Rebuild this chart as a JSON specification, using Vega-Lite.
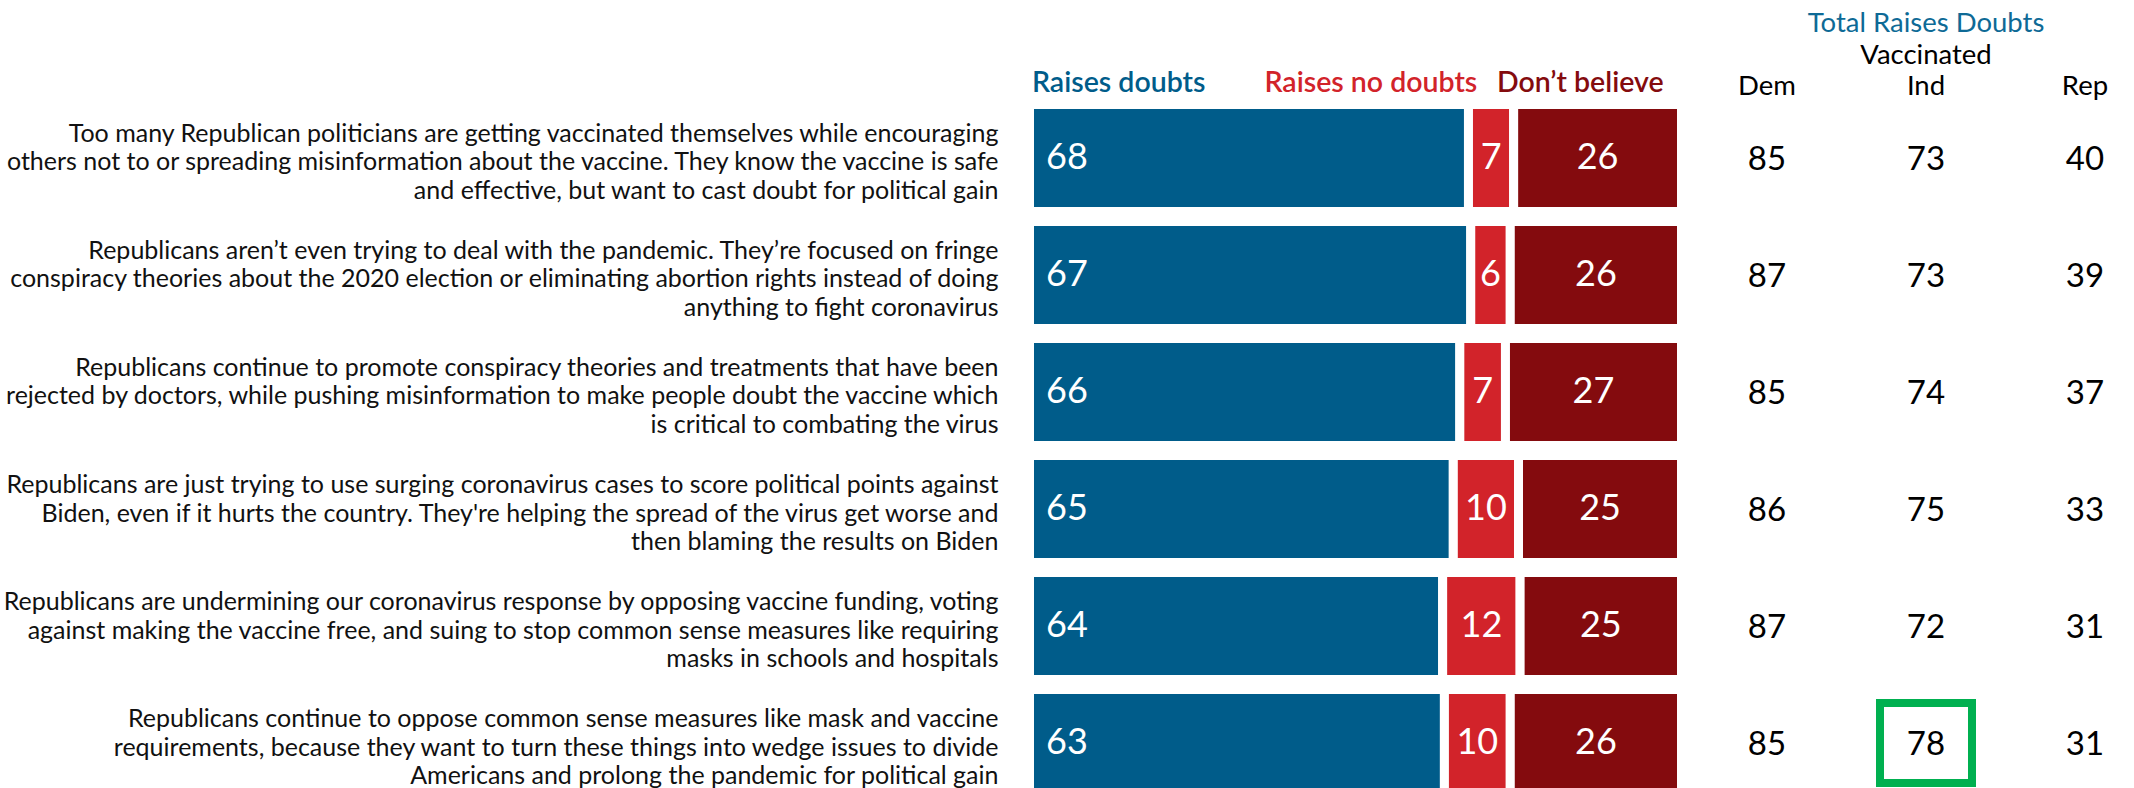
{
  "$schema": "https://vega.github.io/schema/vega-lite/v6.json",
  "width": 1104.5,
  "height": 788,
  "autosize": {"type": "none"},
  "padding": {"left": 1029.5, "top": 0, "right": 0, "bottom": 0},
  "background": "white",
  "config": {"view": {"stroke": null}, "font": "Lato"},
  "datasets": {
    "statements": [
      {"id": 1, "statement": "Too many Republican politicians are getting vaccinated themselves while encouraging\nothers not to or spreading misinformation about the vaccine. They know the vaccine is safe\nand effective, but want to cast doubt for political gain"},
      {"id": 2, "statement": "Republicans aren’t even trying to deal with the pandemic. They’re focused on fringe\nconspiracy theories about the 2020 election or eliminating abortion rights instead of doing\nanything to fight coronavirus"},
      {"id": 3, "statement": "Republicans continue to promote conspiracy theories and treatments that have been\nrejected by doctors, while pushing misinformation to make people doubt the vaccine which\nis critical to combating the virus"},
      {"id": 4, "statement": "Republicans are just trying to use surging coronavirus cases to score political points against\nBiden, even if it hurts the country. They're helping the spread of the virus get worse and\nthen blaming the results on Biden"},
      {"id": 5, "statement": "Republicans are undermining our coronavirus response by opposing vaccine funding, voting\nagainst making the vaccine free, and suing to stop common sense measures like requiring\nmasks in schools and hospitals"},
      {"id": 6, "statement": "Republicans continue to oppose common sense measures like mask and vaccine\nrequirements, because they want to turn these things into wedge issues to divide\nAmericans and prolong the pandemic for political gain"}
    ],
    "bars": [
      {"id": 1, "response": "Raises doubts", "pct": 68},
      {"id": 1, "response": "Raises no doubts", "pct": 7},
      {"id": 1, "response": "Don’t believe", "pct": 26},
      {"id": 2, "response": "Raises doubts", "pct": 67},
      {"id": 2, "response": "Raises no doubts", "pct": 6},
      {"id": 2, "response": "Don’t believe", "pct": 26},
      {"id": 3, "response": "Raises doubts", "pct": 66},
      {"id": 3, "response": "Raises no doubts", "pct": 7},
      {"id": 3, "response": "Don’t believe", "pct": 27},
      {"id": 4, "response": "Raises doubts", "pct": 65},
      {"id": 4, "response": "Raises no doubts", "pct": 10},
      {"id": 4, "response": "Don’t believe", "pct": 25},
      {"id": 5, "response": "Raises doubts", "pct": 64},
      {"id": 5, "response": "Raises no doubts", "pct": 12},
      {"id": 5, "response": "Don’t believe", "pct": 25},
      {"id": 6, "response": "Raises doubts", "pct": 63},
      {"id": 6, "response": "Raises no doubts", "pct": 10},
      {"id": 6, "response": "Don’t believe", "pct": 26}
    ],
    "table": [
      {"id": 1, "group": "Dem", "value": 85},
      {"id": 1, "group": "Ind", "value": 73},
      {"id": 1, "group": "Rep", "value": 40},
      {"id": 2, "group": "Dem", "value": 87},
      {"id": 2, "group": "Ind", "value": 73},
      {"id": 2, "group": "Rep", "value": 39},
      {"id": 3, "group": "Dem", "value": 85},
      {"id": 3, "group": "Ind", "value": 74},
      {"id": 3, "group": "Rep", "value": 37},
      {"id": 4, "group": "Dem", "value": 86},
      {"id": 4, "group": "Ind", "value": 75},
      {"id": 4, "group": "Rep", "value": 33},
      {"id": 5, "group": "Dem", "value": 87},
      {"id": 5, "group": "Ind", "value": 72},
      {"id": 5, "group": "Rep", "value": 31},
      {"id": 6, "group": "Dem", "value": 85},
      {"id": 6, "group": "Ind", "value": 78},
      {"id": 6, "group": "Rep", "value": 31}
    ],
    "headers": [
      {"text": "Raises doubts", "part": "bars", "level": "col", "col": "Raises doubts"},
      {"text": "Raises no doubts", "part": "bars", "level": "col", "col": "Raises no doubts"},
      {"text": "Don’t believe", "part": "bars", "level": "col", "col": "Don’t believe"},
      {"text": "Total Raises Doubts", "part": "table", "level": "title", "col": "Ind"},
      {"text": "Vaccinated", "part": "table", "level": "sub", "col": "Ind"},
      {"text": "Dem", "part": "table", "level": "col", "col": "Dem"},
      {"text": "Ind", "part": "table", "level": "col", "col": "Ind"},
      {"text": "Rep", "part": "table", "level": "col", "col": "Rep"}
    ]
  },
  "layer": [
    {
      "data": {"name": "bars"},
      "transform": [
        {"lookup": "id", "from": {"data": {"name": "statements"}, "key": "id", "fields": ["statement"]}},
        {"stack": "pct", "groupby": ["id"], "offset": "normalize", "as": ["s0", "s1"]}
      ],
      "mark": {"type": "bar", "stroke": "white", "strokeWidth": 9},
      "encoding": {
        "y": {"field": "statement", "type": "nominal", "sort": null,
          "scale": {"type": "band", "range": [104.5, 796.5], "paddingInner": 0.0855, "paddingOuter": 0},
          "axis": {"orient": "left", "title": null, "ticks": false, "domain": false, "labelAlign": "right", "labelBaseline": "middle",
            "labelPadding": 31.5, "labelOffset": -24, "labelFontSize": 25, "labelFont": "Lato", "labelColor": "#111111", "labelLineHeight": 28.5,
            "labelLimit": 1100, "labelExpr": "split(datum.value, '\\n')"}},
        "x": {"field": "s0", "type": "quantitative", "scale": {"domain": [0, 1], "range": [0, 652], "nice": false}, "axis": null},
        "x2": {"field": "s1"},
        "color": {"field": "response", "type": "nominal", "legend": null,
          "scale": {"domain": ["Raises doubts", "Raises no doubts", "Don’t believe"], "range": ["#005C8A", "#D2232A", "#840B0E"]}}
      }
    },
    {
      "data": {"name": "bars"},
      "transform": [
        {"lookup": "id", "from": {"data": {"name": "statements"}, "key": "id", "fields": ["statement"]}},
        {"stack": "pct", "groupby": ["id"], "offset": "normalize", "as": ["s0", "s1"]},
        {"filter": {"field": "response", "equal": "Raises doubts"}}
      ],
      "mark": {"type": "text", "align": "left", "baseline": "middle", "dx": 16.5, "fontSize": 36, "color": "white", "font": "Lato"},
      "encoding": {
        "y": {"field": "statement", "type": "nominal", "sort": null,
          "scale": {"type": "band", "range": [104.5, 796.5], "paddingInner": 0.0855, "paddingOuter": 0}, "axis": null},
        "x": {"field": "s0", "type": "quantitative", "scale": {"domain": [0, 1], "range": [0, 652], "nice": false}, "axis": null},
        "text": {"field": "pct", "type": "quantitative"}
      }
    },
    {
      "data": {"name": "bars"},
      "transform": [
        {"lookup": "id", "from": {"data": {"name": "statements"}, "key": "id", "fields": ["statement"]}},
        {"stack": "pct", "groupby": ["id"], "offset": "normalize", "as": ["s0", "s1"]},
        {"filter": {"not": {"field": "response", "equal": "Raises doubts"}}}
      ],
      "mark": {"type": "text", "align": "center", "baseline": "middle", "fontSize": 36, "color": "white", "font": "Lato",
        "dx": {"expr": "(datum.s1 - datum.s0) * 326"}},
      "encoding": {
        "y": {"field": "statement", "type": "nominal", "sort": null,
          "scale": {"type": "band", "range": [104.5, 796.5], "paddingInner": 0.0855, "paddingOuter": 0}, "axis": null},
        "x": {"field": "s0", "type": "quantitative", "scale": {"domain": [0, 1], "range": [0, 652], "nice": false}, "axis": null},
        "text": {"field": "pct", "type": "quantitative"}
      }
    },
    {
      "data": {"name": "table"},
      "transform": [
        {"lookup": "id", "from": {"data": {"name": "statements"}, "key": "id", "fields": ["statement"]}}
      ],
      "mark": {"type": "text", "align": "center", "baseline": "middle", "dy": 2, "fontSize": 33, "color": "black", "font": "Lato"},
      "encoding": {
        "y": {"field": "statement", "type": "nominal", "sort": null,
          "scale": {"type": "band", "range": [104.5, 796.5], "paddingInner": 0.0855, "paddingOuter": 0}, "axis": null},
        "x": {"field": "group", "type": "nominal", "scale": {"type": "point", "domain": ["Dem", "Ind", "Rep"], "range": [737.5, 1055.5], "padding": 0}, "axis": null},
        "text": {"field": "value", "type": "quantitative"}
      }
    },
    {
      "data": {"name": "table"},
      "transform": [
        {"filter": {"and": [{"field": "id", "equal": 6}, {"field": "group", "equal": "Ind"}]}}
      ],
      "mark": {"type": "rect", "filled": false, "stroke": "#00B050", "strokeWidth": 8, "width": 92, "height": 80},
      "encoding": {
        "y": {"field": "id", "type": "ordinal",
          "scale": {"type": "band", "domain": [1, 2, 3, 4, 5, 6], "range": [104.5, 796.5], "paddingInner": 0.0855, "paddingOuter": 0}, "axis": null},
        "x": {"field": "group", "type": "nominal", "scale": {"type": "point", "domain": ["Dem", "Ind", "Rep"], "range": [737.5, 1055.5], "padding": 0}, "axis": null}
      }
    },
    {
      "data": {"name": "headers"},
      "transform": [{"filter": {"field": "part", "equal": "bars"}}],
      "mark": {"type": "text", "align": "left", "baseline": "alphabetic", "fontSize": 28.5, "fontWeight": 600, "font": "Lato"},
      "encoding": {
        "x": {"field": "col", "type": "nominal", "scale": {"type": "point", "domain": ["Raises doubts", "Raises no doubts", "Don’t believe"], "range": [2.5, 467.5], "padding": 0}, "axis": null},
        "y": {"field": "level", "type": "nominal", "scale": {"type": "point", "domain": ["title", "sub", "col"], "range": [29, 92], "padding": 0}, "axis": null},
        "text": {"field": "text"},
        "color": {"field": "text", "type": "nominal", "legend": null,
          "scale": {"domain": ["Raises doubts", "Raises no doubts", "Don’t believe"], "range": ["#005C8A", "#D2232A", "#840B0E"]}}
      }
    },
    {
      "data": {"name": "headers"},
      "transform": [{"filter": {"field": "part", "equal": "table"}}],
      "mark": {"type": "text", "align": "center", "baseline": "alphabetic", "fontSize": 27.5, "font": "Lato"},
      "encoding": {
        "x": {"field": "col", "type": "nominal", "scale": {"type": "point", "domain": ["Dem", "Ind", "Rep"], "range": [737.5, 1055.5], "padding": 0}, "axis": null},
        "y": {"field": "level", "type": "nominal", "scale": {"type": "point", "domain": ["title", "sub", "col"], "range": [32, 95], "padding": 0}, "axis": null},
        "text": {"field": "text"},
        "color": {"field": "text", "type": "nominal", "legend": null,
          "scale": {"domain": ["Total Raises Doubts", "Vaccinated", "Dem", "Ind", "Rep"], "range": ["#0E6A96", "#000000", "#000000", "#000000", "#000000"]}}
      }
    }
  ],
  "resolve": {"scale": {"x": "independent", "y": "independent", "color": "independent"}}
}
